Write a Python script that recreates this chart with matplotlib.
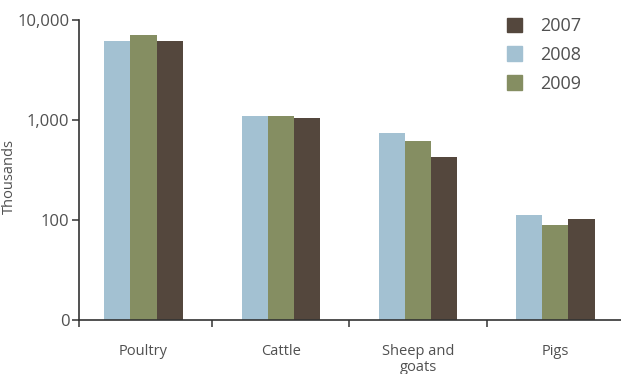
import matplotlib.pyplot as plt
import matplotlib.patches as mpatches
import numpy as np

categories = ['Poultry', 'Cattle', 'Sheep and\ngoats', 'Pigs']
years = ['2008', '2009', '2007']
values_2008 = [6170, 1096, 741, 112]
values_2009 = [7080, 1096, 617, 89]
values_2007 = [6170, 1047, 427, 102]
colors = {'2007': '#54473d', '2008': '#a3c1d2', '2009': '#858e62'}

text_col = '#505050'
plt.rcParams['font.family'] = ['Open Sans', 'DejaVu Sans']

fig = plt.figure(figsize=(6.21, 3.74), dpi=100)
ax = fig.add_axes([79 / 621, 1 - 320 / 374, 1 - 79 / 621, 300 / 374])

x = np.arange(len(categories))
w = 0.19
series = {'2008': values_2008, '2009': values_2009, '2007': values_2007}
for i, yr in enumerate(years):
    ax.bar(x + (i - 1) * w, series[yr], width=w, color=colors[yr], linewidth=0)

ax.set_yscale('log')
ax.set_ylim(10, 10000)
ax.set_xlim(-0.47, 3.478)
ax.set_yticks([10, 100, 1000, 10000])
ax.set_yticklabels(['0', '100', '1,000', '10,000'])
ax.minorticks_off()

ax.set_xticks(x)
ax.set_xticklabels(categories, linespacing=1.15)
ax.set_xticks([-0.47, 0.5, 1.5, 2.5], minor=True)
ax.tick_params(axis='x', which='major', length=0, pad=17, labelsize=10.5, labelcolor=text_col)
ax.tick_params(axis='x', which='minor', length=5, width=1.1, color='#333333', direction='out')
ax.tick_params(axis='y', length=5, width=1.1, color='#333333', labelsize=12, labelcolor=text_col, pad=2)

for s in ['top', 'right']:
    ax.spines[s].set_visible(False)
for s in ['left', 'bottom']:
    ax.spines[s].set_linewidth(1.2)
    ax.spines[s].set_color('#333333')

ax.set_ylabel('Thousands', fontsize=10.5, color=text_col)
ax.yaxis.set_label_coords(-0.114, 0.48)

handles = [mpatches.Patch(color=colors[y], label=y) for y in ['2007', '2008', '2009']]
fig.legend(handles=handles, loc='upper left', bbox_to_anchor=(507 / 621, 1 - 17 / 374),
           frameon=False, fontsize=13, handlelength=0.85, handleheight=0.85,
           handletextpad=1.0, labelspacing=0.6, borderpad=0, borderaxespad=0,
           labelcolor=text_col)

fig.savefig('out.png', dpi=100)
